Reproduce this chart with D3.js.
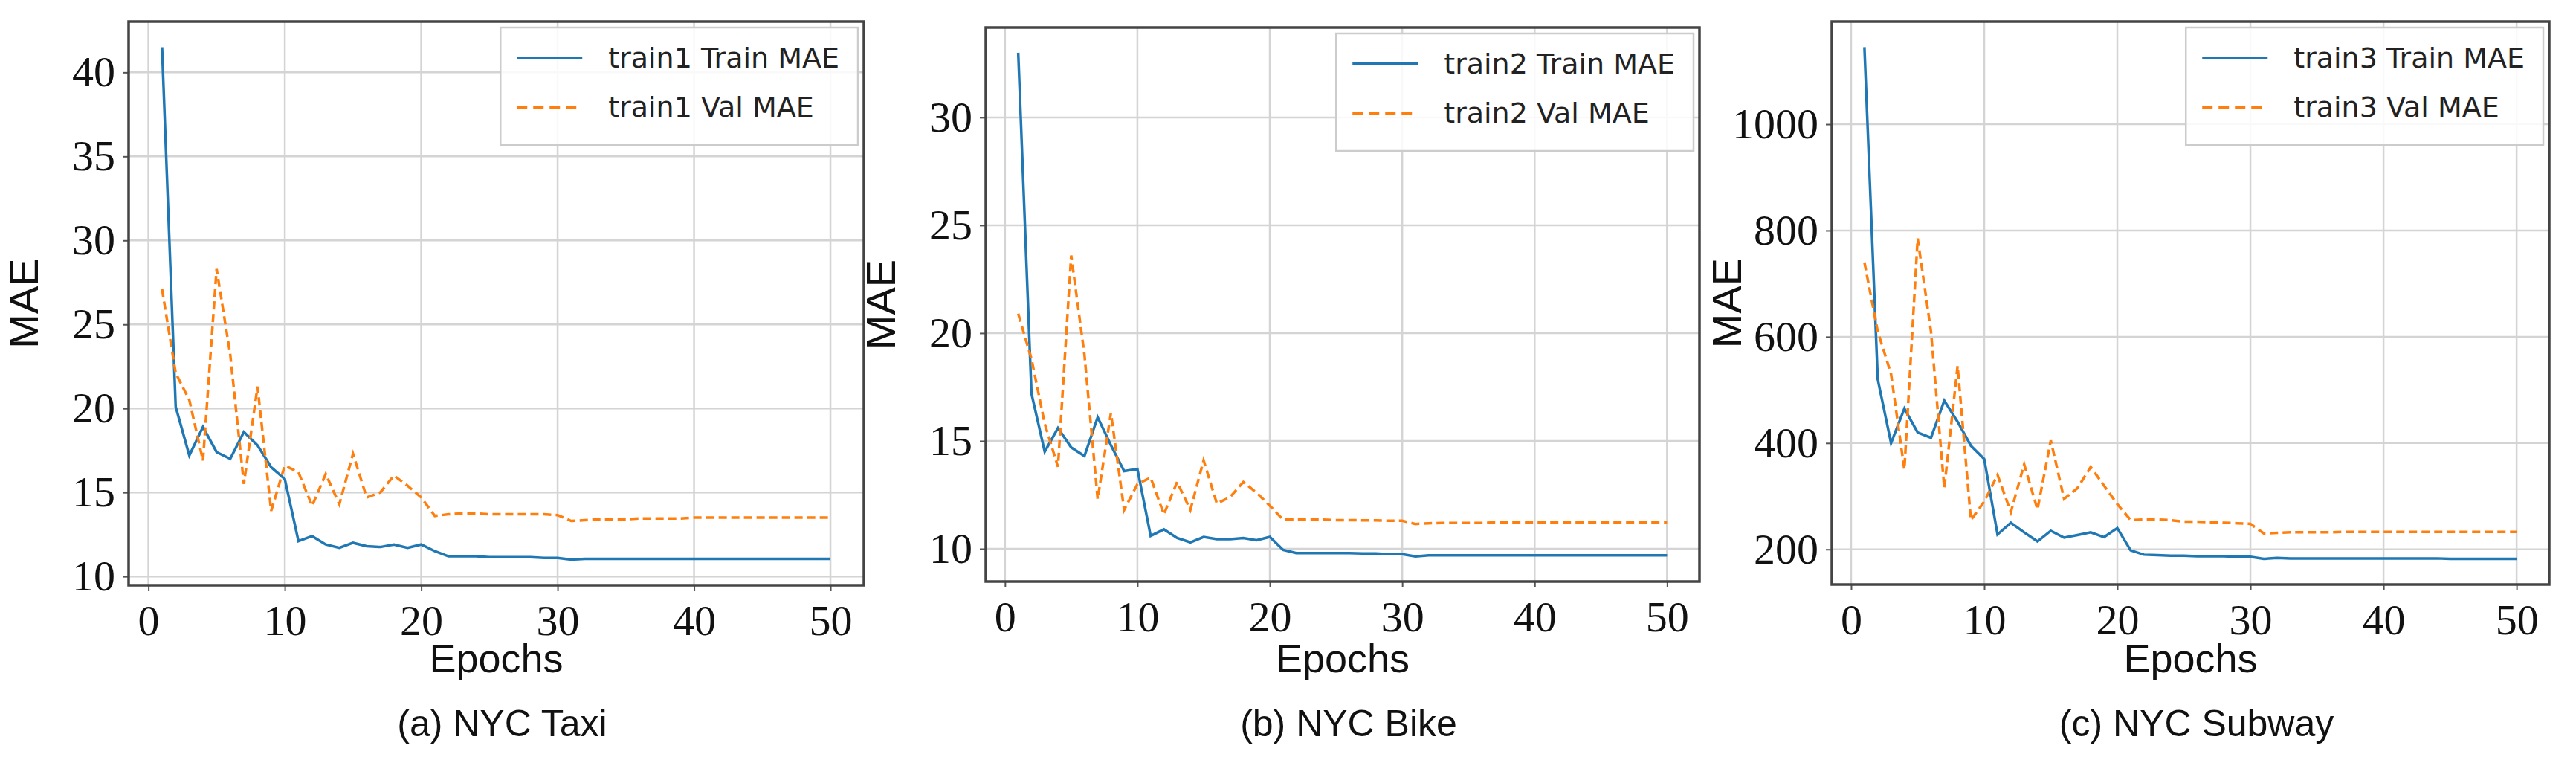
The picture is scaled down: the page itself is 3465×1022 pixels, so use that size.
<!DOCTYPE html>
<html>
<head>
<meta charset="utf-8">
<script src="https://cdn.jsdelivr.net/npm/d3@7.9.0/dist/d3.min.js"></script>
<style>
  body { margin: 0; background: #fff; }
  svg { display: block; }
</style>
</head>
<body>
<svg id="chart" width="3465" height="1022"></svg>
<script>
const epochs = d3.range(1, 51);

const taxiTrain = [41.5, 20.1, 17.2, 18.9, 17.4, 17.0, 18.6, 17.8, 16.5, 15.8,
  12.1, 12.4, 11.9, 11.7, 12.0, 11.8, 11.75, 11.9, 11.7, 11.9,
  11.5, 11.2, 11.2, 11.2, 11.15, 11.15, 11.15, 11.15, 11.1, 11.1,
  11.0, 11.05, 11.05, 11.05, 11.05, 11.05, 11.05, 11.05, 11.05, 11.05,
  11.05, 11.05, 11.05, 11.05, 11.05, 11.05, 11.05, 11.05, 11.05, 11.05];
const taxiVal = [27.1, 22.1, 20.5, 16.9, 28.3, 23.2, 15.5, 21.3, 13.9, 16.6,
  16.2, 14.2, 16.1, 14.3, 17.3, 14.7, 15.0, 16.0, 15.4, 14.7,
  13.6, 13.7, 13.75, 13.75, 13.7, 13.7, 13.7, 13.7, 13.7, 13.65,
  13.3, 13.35, 13.4, 13.4, 13.4, 13.45, 13.45, 13.45, 13.45, 13.5,
  13.5, 13.5, 13.5, 13.5, 13.5, 13.5, 13.5, 13.5, 13.5, 13.5];

const bikeTrain = [33.0, 17.2, 14.5, 15.6, 14.7, 14.3, 16.1, 14.8, 13.6, 13.7,
  10.6, 10.9, 10.5, 10.3, 10.55, 10.45, 10.45, 10.5, 10.4, 10.55,
  9.95, 9.8, 9.8, 9.8, 9.8, 9.8, 9.78, 9.78, 9.75, 9.75,
  9.65, 9.7, 9.7, 9.7, 9.7, 9.7, 9.7, 9.7, 9.7, 9.7,
  9.7, 9.7, 9.7, 9.7, 9.7, 9.7, 9.7, 9.7, 9.7, 9.7];
const bikeVal = [20.9, 18.8, 15.8, 13.8, 23.6, 19.0, 12.3, 16.3, 11.8, 13.0,
  13.3, 11.6, 13.1, 11.8, 14.1, 12.1, 12.4, 13.1, 12.6, 12.0,
  11.35, 11.35, 11.35, 11.35, 11.33, 11.33, 11.32, 11.32, 11.3, 11.3,
  11.15, 11.18, 11.2, 11.2, 11.2, 11.2, 11.22, 11.22, 11.22, 11.22,
  11.22, 11.22, 11.22, 11.22, 11.22, 11.22, 11.22, 11.22, 11.22, 11.22];

const subwayTrain = [1145, 520, 400, 465, 420, 410, 480, 440, 395, 370,
  228, 250, 232, 215, 235, 222, 227, 232, 223, 240,
  198, 190, 189, 188, 188, 187, 187, 187, 186, 186,
  182, 184, 183, 183, 183, 183, 183, 183, 183, 183,
  183, 183, 183, 183, 182, 182, 182, 182, 182, 182];
const subwayVal = [740, 610, 530, 350, 785, 610, 315, 545, 255, 290,
  340, 270, 360, 275, 405, 295, 315, 355, 320, 285,
  255, 256, 256, 255, 252, 252, 251, 250, 249, 248,
  230, 231, 232, 232, 232, 232, 233, 233, 233, 233,
  233, 233, 233, 233, 233, 233, 233, 233, 233, 233];

const xTicks = [0, 10, 20, 30, 40, 50];
const taxiTicks = [10, 15, 20, 25, 30, 35, 40];
const bikeTicks = [10, 15, 20, 25, 30];
const subwayTicks = [200, 400, 600, 800, 1000];

const panels = [
  { train: taxiTrain, val: taxiVal, yTicks: taxiTicks, name: 'train1',
    caption: '(a) NYC Taxi', box: [173, 1162, 29, 787] },
  { train: bikeTrain, val: bikeVal, yTicks: bikeTicks, name: 'train2',
    caption: '(b) NYC Bike', box: [1326, 2286, 37, 782] },
  { train: subwayTrain, val: subwayVal, yTicks: subwayTicks, name: 'train3',
    caption: '(c) NYC Subway', box: [2464, 3429, 29, 786] },
];

const blue = '#1f77b4';
const orange = '#ff7f0e';
const serif = '"Liberation Serif", "DejaVu Serif", "Times New Roman", serif';
const sans = '"Liberation Sans", Arial, sans-serif';
const svg = d3.select('#chart');

panels.forEach((p) => {
  const [x0, x1, y0, y1] = p.box;
  // matplotlib style 5% margins
  const all = p.train.concat(p.val);
  const lo = d3.min(all), hi = d3.max(all), pad = (hi - lo) * 0.05;
  const x = d3.scaleLinear().domain([1 - 49 * 0.05, 50 + 49 * 0.05]).range([x0, x1]);
  const y = d3.scaleLinear().domain([lo - pad, hi + pad]).range([y1, y0]);

  const g = svg.append('g');

  // grid
  g.selectAll('.gx').data(xTicks).join('line')
    .attr('x1', (d) => x(d)).attr('x2', (d) => x(d))
    .attr('y1', y0).attr('y2', y1)
    .attr('stroke', '#d4d4d4').attr('stroke-width', 2.5);
  g.selectAll('.gy').data(p.yTicks).join('line')
    .attr('x1', x0).attr('x2', x1)
    .attr('y1', (d) => y(d)).attr('y2', (d) => y(d))
    .attr('stroke', '#d4d4d4').attr('stroke-width', 2.5);

  // axes
  const xAxis = g.append('g').attr('transform', `translate(0,${y1})`)
    .call(d3.axisBottom(x).tickValues(xTicks).tickFormat(d3.format('d')).tickSize(8).tickPadding(10));
  const yAxis = g.append('g').attr('transform', `translate(${x0},0)`)
    .call(d3.axisLeft(y).tickValues(p.yTicks).tickFormat(d3.format('d')).tickSize(8).tickPadding(10));
  [xAxis, yAxis].forEach((a) => {
    a.attr('font-family', null).attr('font-size', null);
    a.select('.domain').remove();
    a.selectAll('line').attr('stroke', '#555').attr('stroke-width', 2);
    a.selectAll('text')
      .style('font-family', serif)
      .style('font-size', '58px').attr('fill', '#111');
  });
  xAxis.selectAll('text').attr('dy', '0.85em');

  // lines
  const line = (vals) => d3.line().x((d, i) => x(epochs[i])).y((d) => y(d))(vals);
  g.append('path').attr('d', line(p.train)).attr('fill', 'none')
    .attr('stroke', blue).attr('stroke-width', 3.5);
  g.append('path').attr('d', line(p.val)).attr('fill', 'none')
    .attr('stroke', orange).attr('stroke-width', 3.5).attr('stroke-dasharray', '11,6');

  // frame
  g.append('rect').attr('x', x0).attr('y', y0)
    .attr('width', x1 - x0).attr('height', y1 - y0)
    .attr('fill', 'none').attr('stroke', '#444').attr('stroke-width', 3.5);

  // legend
  const lg = g.append('g');
  const labels = [`${p.name} Train MAE`, `${p.name} Val MAE`];
  const texts = lg.selectAll('text').data(labels).join('text')
    .attr('y', (d, i) => y0 + 62 + i * 66)
    .attr('font-family', '"DejaVu Sans", sans-serif')
    .attr('font-size', 38).attr('fill', '#222')
    .text((d) => d);
  const tw = d3.max(texts.nodes(), (n) => n.getComputedTextLength());
  const boxR = x1 - 8, boxL = boxR - tw - 170;
  texts.attr('x', boxL + 145);
  lg.insert('rect', 'text').attr('x', boxL).attr('y', y0 + 8)
    .attr('width', boxR - boxL).attr('height', 158)
    .attr('fill', '#fff').attr('fill-opacity', 0.85)
    .attr('stroke', '#ccc').attr('stroke-width', 2.5);
  [blue, orange].forEach((c, i) => {
    lg.append('line').attr('x1', boxL + 22).attr('x2', boxL + 110)
      .attr('y1', y0 + 49 + i * 66).attr('y2', y0 + 49 + i * 66)
      .attr('stroke', c).attr('stroke-width', 4)
      .attr('stroke-dasharray', i ? '14,8' : null);
  });

  // axis labels and caption
  const cx = (x0 + x1) / 2;
  g.append('text').attr('x', cx).attr('y', 904).attr('text-anchor', 'middle')
    .attr('font-family', sans)
    .attr('font-size', 54).attr('fill', '#111').text('Epochs');
  g.append('text')
    .attr('transform', `translate(${x0 - 122},${(y0 + y1) / 2}) rotate(-90)`)
    .attr('text-anchor', 'middle')
    .attr('font-family', sans)
    .attr('font-size', 56).attr('fill', '#111').text('MAE');
  g.append('text').attr('x', cx + 8).attr('y', 990).attr('text-anchor', 'middle')
    .attr('font-family', sans)
    .attr('font-size', 50).attr('fill', '#111').text(p.caption);
});
</script>
</body>
</html>
